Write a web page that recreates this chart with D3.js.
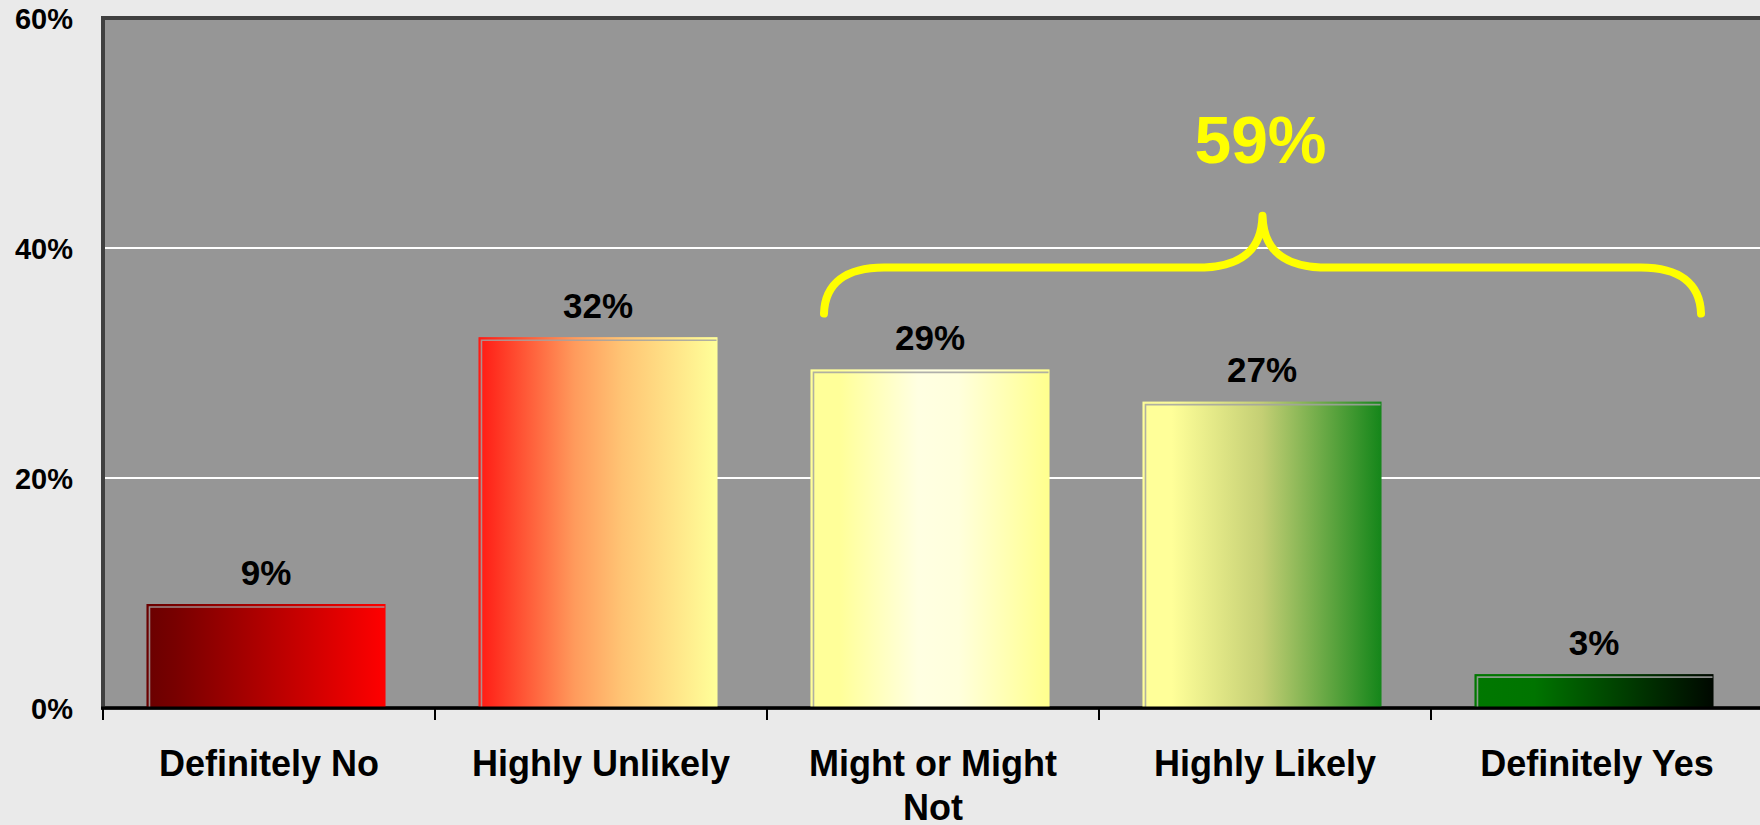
<!DOCTYPE html>
<html>
<head>
<meta charset="utf-8">
<script src="https://cdn.jsdelivr.net/npm/d3@7"></script>
<style>
  html, body { margin: 0; padding: 0; background: #eaeaea; }
  svg { display: block; font-family: "Liberation Sans", Arial, sans-serif; }
</style>
</head>
<body>
<div id="chart"></div>
<script>
// chart values
const categories = ["Definitely No", "Highly Unlikely", "Might or Might Not", "Highly Likely", "Definitely Yes"];
const values = [9.0, 32.2, 29.4, 26.6, 2.9];
const yTicks = [0, 20, 40, 60];
const groupCats = ["Might or Might Not", "Highly Likely", "Definitely Yes"];

// gradient stops for each bar (left -> right)
const barStops = [
  [["0%", "#6a0000"], ["12%", "#780000"], ["100%", "#ff0000"]],
  [["0%", "#ff1a14"], ["40%", "#ff9a5c"], ["60%", "#ffc474"], ["100%", "#ffff99"]],
  [["0%", "#ffff99"], ["12%", "#ffff99"], ["45%", "#ffffe2"], ["62%", "#ffffdc"], ["100%", "#ffff8e"]],
  [["0%", "#ffff99"], ["12%", "#ffff99"], ["50%", "#c4cf74"], ["100%", "#15861a"]],
  [["0%", "#007800"], ["25%", "#007400"], ["100%", "#000800"]]
];

const width = 1760, height = 825;
const margins = { top: 18, left: 103, bottom: 117 };

const svg = d3.select("#chart").append("svg")
  .attr("width", width)
  .attr("height", height);

const x = d3.scaleBand()
  .domain(categories)
  .range([margins.left, margins.left + 332 * categories.length])
  .paddingInner(0.283)
  .paddingOuter(0.1415);

const y = d3.scaleLinear()
  .domain([0, 60])
  .range([height - margins.bottom, margins.top]);

const defs = svg.append("defs");
barStops.forEach((stops, i) => {
  const g = defs.append("linearGradient")
    .attr("id", "grad" + i)
    .attr("x1", "0%").attr("x2", "100%")
    .attr("y1", "0%").attr("y2", "0%");
  stops.forEach(s => g.append("stop").attr("offset", s[0]).attr("stop-color", s[1]));
});

// plot area
svg.append("rect")
  .attr("x", margins.left)
  .attr("y", y(60))
  .attr("width", width + 20 - margins.left)
  .attr("height", y(0) - y(60))
  .attr("fill", "#969696")
  .attr("stroke", "#404040")
  .attr("stroke-width", 4);

// gridlines
svg.append("g").selectAll("line")
  .data(yTicks.filter(d => d > 0 && d < 60))
  .enter().append("line")
  .attr("x1", margins.left + 2).attr("x2", width)
  .attr("y1", d => y(d)).attr("y2", d => y(d))
  .attr("stroke", "#ffffff")
  .attr("stroke-width", 2);

// y labels
svg.append("g").selectAll("text")
  .data(yTicks)
  .enter().append("text")
  .attr("x", 73)
  .attr("y", d => y(d) + 11)
  .attr("text-anchor", "end")
  .attr("font-size", 29)
  .attr("font-weight", "bold")
  .text(d => d + "%");

// bars
const shift = -3;
const bars = svg.append("g").selectAll("g")
  .data(values)
  .enter().append("g");

bars.append("rect")
  .attr("x", (d, i) => x(categories[i]) + shift)
  .attr("y", d => y(d))
  .attr("width", x.bandwidth())
  .attr("height", d => y(0) - y(d))
  .attr("fill", (d, i) => `url(#grad${i})`)
  .attr("stroke", (d, i) => `url(#grad${i})`)
  .attr("stroke-width", 1);

// bevel line on top / left
bars.append("path")
  .attr("d", (d, i) => {
    const x0 = x(categories[i]) + shift + 2.5, y0 = y(d) + 2.5;
    return `M${x0},${y(0)}V${y0}H${x0 + x.bandwidth() - 3}`;
  })
  .attr("fill", "none")
  .attr("stroke", "#a2a2a2")
  .attr("stroke-opacity", 0.85)
  .attr("stroke-width", 1.6);

// value labels
bars.append("text")
  .attr("x", (d, i) => x(categories[i]) + shift + x.bandwidth() / 2)
  .attr("y", d => y(d) - 20)
  .attr("text-anchor", "middle")
  .attr("font-size", 35)
  .attr("font-weight", "bold")
  .attr("fill", "#000")
  .text(d => Math.round(d) + "%");

// x axis
svg.append("line")
  .attr("x1", margins.left - 2).attr("x2", width)
  .attr("y1", y(0)).attr("y2", y(0))
  .attr("stroke", "#000").attr("stroke-width", 3);

svg.append("g").selectAll("line")
  .data(d3.range(categories.length + 1))
  .enter().append("line")
  .attr("x1", i => margins.left + i * x.step())
  .attr("x2", i => margins.left + i * x.step())
  .attr("y1", y(0)).attr("y2", y(0) + 12)
  .attr("stroke", "#000").attr("stroke-width", 2);

const catLabels = svg.append("g").selectAll("text")
  .data(categories)
  .enter().append("text")
  .attr("x", d => x(d) + shift + x.bandwidth() / 2 + 3)
  .attr("y", 776)
  .attr("text-anchor", "middle")
  .attr("font-size", 36)
  .attr("font-weight", "bold")
  .attr("fill", "#000");

catLabels.each(function(d) {
  const t = d3.select(this);
  const cx = +t.attr("x");
  const words = d.split(" ");
  let line = [];
  let tspan = t.append("tspan").attr("x", cx).attr("dy", 0);
  words.forEach(w => {
    line.push(w);
    tspan.text(line.join(" "));
    if (tspan.node().getComputedTextLength() > 300 && line.length > 1) {
      line.pop();
      tspan.text(line.join(" "));
      line = [w];
      tspan = t.append("tspan").attr("x", cx).attr("dy", 44).text(w);
    }
  });
});

// brace over the group
const groupIdx = groupCats.map(c => categories.indexOf(c));
const bx0 = x(groupCats[0]) + shift + 13;
const bx1 = x(groupCats[groupCats.length - 1]) + shift + x.bandwidth() - 12;
const bxm = (bx0 + bx1) / 2;
const yb = y(34.3), yl = y(38.3), yp = y(42.8);

const brace = d3.path();
brace.moveTo(bx0, yb);
brace.bezierCurveTo(bx0 + 1, yl + 16, bx0 + 22, yl, bx0 + 60, yl);
brace.lineTo(bxm - 58, yl);
brace.bezierCurveTo(bxm - 20, yl - 2, bxm - 1, yl - 18, bxm, yp);
brace.bezierCurveTo(bxm + 1, yl - 18, bxm + 20, yl - 2, bxm + 58, yl);
brace.lineTo(bx1 - 60, yl);
brace.bezierCurveTo(bx1 - 22, yl, bx1 - 1, yl + 16, bx1, yb);

svg.append("path")
  .attr("d", brace.toString())
  .attr("fill", "none")
  .attr("stroke", "#ffff00")
  .attr("stroke-width", 8)
  .attr("stroke-linecap", "round")
  .attr("stroke-linejoin", "round");

const groupTotal = d3.sum(groupIdx, i => Math.round(values[i]));
svg.append("text")
  .attr("x", bxm - 2)
  .attr("y", y(47.4))
  .attr("text-anchor", "middle")
  .attr("font-size", 66)
  .attr("font-weight", "bold")
  .attr("fill", "#ffff00")
  .text(groupTotal + "%");
</script>
</body>
</html>
